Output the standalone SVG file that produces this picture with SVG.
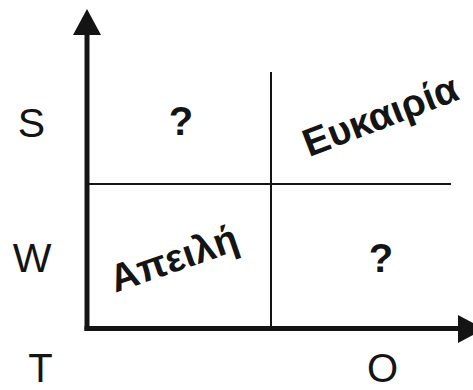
<svg xmlns="http://www.w3.org/2000/svg" width="473" height="390" viewBox="0 0 473 390">
<style>
.ax{stroke:#141414;stroke-width:5;fill:none}
.grid{stroke:#141414;stroke-width:2;fill:none}
.lbl{font-family:"Liberation Sans",Arial,sans-serif;font-size:41px;fill:#141414;text-anchor:middle}
.q{font-family:"Liberation Sans",Arial,sans-serif;font-size:40px;font-weight:bold;fill:#141414;text-anchor:middle}
.gr{font-family:"Liberation Sans",Arial,sans-serif;font-size:39px;font-weight:bold;fill:#141414;text-anchor:middle}
</style>
<rect width="473" height="390" fill="#fff"/>
<g id="connectors">
<line class="ax" x1="87" y1="331" x2="87" y2="34"/>
<polygon points="73,35 101,35 87,9" fill="#141414"/>
<line class="ax" x1="84.5" y1="328.5" x2="459" y2="328.5"/>
<polygon points="458,315 458,343 484,329" fill="#141414"/>
<line class="grid" x1="271" y1="72" x2="271" y2="327"/>
<line class="grid" x1="89" y1="184" x2="451" y2="184"/>
</g>
<g id="axis-labels">
<text class="lbl" x="31.5" y="137">S</text>
<text class="lbl" x="32" y="272">W</text>
<text class="lbl" x="40.5" y="382" style="font-size:40px">T</text>
<text class="lbl" x="382.5" y="382" style="font-size:40px">O</text>
</g>
<g id="q1"><text class="q" x="181" y="135">?</text></g>
<g id="q2"><text class="q" x="381" y="272">?</text></g>
<g id="opportunity"><text class="gr" transform="translate(385,128) rotate(-21)">Ευκαιρία</text></g>
<g id="threat"><text class="gr" transform="translate(178,271) rotate(-19)">Απειλή</text></g>
</svg>
